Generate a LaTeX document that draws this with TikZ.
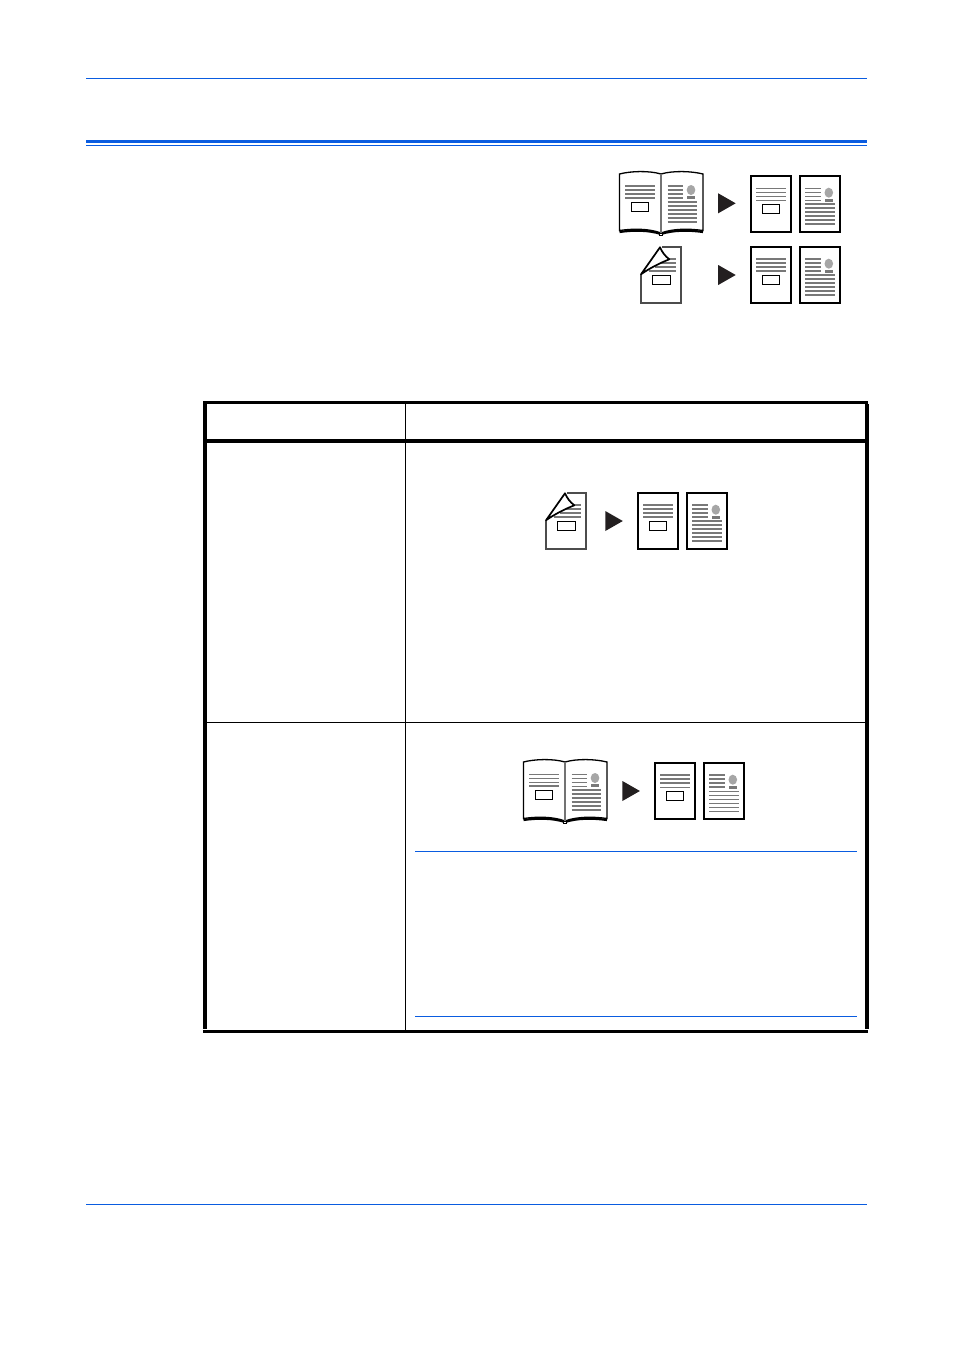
\documentclass[tikz,border=0pt]{standalone}
\usetikzlibrary{calc}
\definecolor{rulecol}{HTML}{0A5CE0}
\definecolor{inkcol}{HTML}{231F20}
\definecolor{textcol}{HTML}{787878}

\begin{document}
\begin{tikzpicture}[
    x=1pt,y=-1pt,
    %framed,
    bluerule/.style={draw=rulecol, line width=1pt},
    tablerule/.style={draw=black, line width=#1},
    txt/.style={draw=textcol, line width=#1},
    heavytxt/.style={txt=2pt},
    lighttxt/.style={txt=0.9pt},
    imgbox/.style={draw=black, fill=white, line width=0.9pt},
    sheet/.style={draw=black, fill=white, line width=1.9pt},
    bookline/.style={draw=black, line width=1.3pt, line cap=round},
    pics/pagea/.style 2 args={code={
        \draw[sheet] (0.8,0.5) rectangle (40.2,56.5);
        \foreach \yy in {12.5,16.5,20.5} \draw[#1] (5.5,\yy) -- (35.5,\yy);
        \draw[#2] (5.5,24.5) -- (35.5,24.5);
        \draw[imgbox] (11.8,28.8) rectangle (29.3,38.4);
    }},
    pics/pageb/.style 2 args={code={
        \draw[sheet] (0.8,0.5) rectangle (40.2,56.5);
        \foreach \yy in {12.5,16.5,20.5,24.5} \draw[#1] (5.8,\yy) -- (21.3,\yy);
        \fill[gray!70] (29.3,17.2) circle [x radius=4.3pt, y radius=5pt];
        \fill[textcol] (25.5,23) rectangle (33.3,26.4);
        \foreach \yy in {28.5,32.5,36.5,40.5,44.5,48.5} \draw[#2] (5.8,\yy) -- (35.6,\yy);
    }},
    pics/loosepage/.style={code={
        \draw[draw=black!70, fill=white, line width=1.9pt] (0,28.3) -- (0,57) -- (40.2,57) -- (40.2,0.6) -- (21,0.6);
        \draw[heavytxt] (24,13) -- (35.3,13);
        \draw[heavytxt] (20,17) -- (35.3,17);
        \draw[heavytxt] (14,21) -- (35.3,21);
        \draw[heavytxt] (8,25) -- (35.3,25);
        \draw[imgbox] (11.5,29.3) rectangle (29,38.7);
        \draw[draw=black, fill=white, line width=1.7pt, line join=round] (0,28.3) -- (19,1.3) .. controls (21,6) and (24,10) .. (28.3,13.3) .. controls (19,17) and (9,22) .. cycle;
    }},
    pics/openbook/.style 2 args={code={
        \draw[bookline, fill=white] (42,3) .. controls (30,-0.5) and (12,0) .. (0.5,3) -- (0.5,59.5) .. controls (14,57.5) and (30,57.5) .. (42,62) .. controls (54,57.5) and (70,57.5) .. (84,59.5) -- (84,3) .. controls (72,0) and (54,-0.5) .. (42,3) -- cycle;
        \draw[draw=black, line width=2.2pt] (0.5,61) .. controls (14,59) and (30,59) .. (42,63) .. controls (54,59) and (70,59) .. (84,61);
        \fill[black] (40,62) rectangle (44,65);
        \fill[white] (41.2,62.6) rectangle (42.8,63.8);
        \draw[draw=black!55, line width=1.3pt] (42,3) -- (42,62);
        \foreach \yy in {15,19,23} \draw[#1] (6,\yy) -- (36,\yy);
        \draw[heavytxt] (6,27) -- (36,27);
        \draw[imgbox] (12.3,31.3) rectangle (29.7,40.7);
        \foreach \yy in {15,19,23,27} \draw[#2] (48.7,\yy) -- (64,\yy);
        \fill[gray!70] (72,19) circle [x radius=4.3pt, y radius=5pt];
        \fill[textcol] (68.3,25) rectangle (76,28.4);
        \foreach \yy in {31,35,39,43,47,51} \draw[heavytxt] (48.7,\yy) -- (77.7,\yy);
    }},
    pics/playmark/.style={code={
        \fill[inkcol] (0,0) -- (17.5,10) -- (0,20) -- cycle;
    }}
    ]
    \useasboundingbox (0,0) rectangle (954,1350);

% page rules
\draw[bluerule] (86,78.5) -- (867,78.5);
\fill[rulecol] (86,140) rectangle (867,143.2);
\draw[bluerule] (86,145.5) -- (867,145.5);
\draw[bluerule] (86,1204.5) -- (867,1204.5);

% upper group
\pic at (619,171) {openbook={heavytxt}{heavytxt}};
\pic at (718.2,193.3) {playmark};
\pic at (750.5,175.5) {pagea={lighttxt}{lighttxt}};
\pic at (799.5,175.5) {pageb={lighttxt}{heavytxt}};

\pic at (641,246) {loosepage};
\pic at (718.2,265) {playmark};
\pic at (750.5,246.5) {pagea={heavytxt}{heavytxt}};
\pic at (799.5,246.5) {pageb={heavytxt}{heavytxt}};

% table frame
\fill[black] (203,401) rectangle (868,403.8);
\fill[black] (203,438.8) rectangle (869,443);
\fill[black] (203,401) rectangle (207,1029);
\fill[black] (865,404) rectangle (869,1029);
\fill[black] (203,1030) rectangle (868,1033);
\draw[tablerule=1pt] (405.5,403) -- (405.5,1031);
\draw[tablerule=1pt] (206,722.5) -- (866,722.5);

% first row
\pic at (546,492) {loosepage};
\pic at (605.3,511) {playmark};
\pic at (637.5,492.5) {pagea={heavytxt}{heavytxt}};
\pic at (686.5,492.5) {pageb={heavytxt}{heavytxt}};

% second row
\pic at (523,759) {openbook={lighttxt}{lighttxt}};
\pic at (622.4,781) {playmark};
\pic at (654.5,762.5) {pagea={heavytxt}{lighttxt}};
\pic at (703.5,762.5) {pageb={heavytxt}{lighttxt}};
\draw[bluerule] (415,851.5) -- (857,851.5);
\draw[bluerule] (415,1016.5) -- (857,1016.5);
\end{tikzpicture}
\end{document}
